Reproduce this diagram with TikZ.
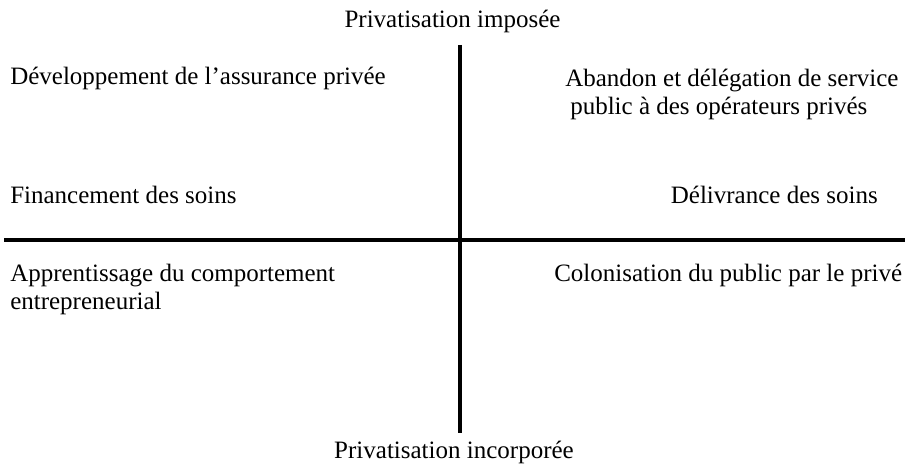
\documentclass[tikz,border=0pt]{standalone}
\usepackage{fontspec}
\setmainfont{Liberation Serif}
\usetikzlibrary{positioning}

\begin{document}
\begin{tikzpicture}[x=1pt,y=-1pt,line width=4.5pt,font=\fontsize{25}{28}\selectfont]
   \tikzstyle{every node}=[inner sep=0pt]
   \tikzstyle{pole}=[anchor=base]
   \tikzstyle{quadrant}=[anchor=base west]
   \useasboundingbox (0,0) rectangle (905,468);

   \coordinate (top)    at (460,45);
   \coordinate (bottom) at (460,433);
   \coordinate (left)   at (4,240);
   \coordinate (right)  at (905,240);

   \node[pole]     (imposee)    at (452.5,28) {Privatisation imposée};
   \node[pole]     (incorporee) at (454,458)  {Privatisation incorporée};

   \node[quadrant] (assurance)  at (8,85)    {Développement de l’assurance privée};
   \node[quadrant] (abandon)    at (563,87)  {Abandon et délégation de service};
   \node[quadrant] (abandon2)   at (568,115) {public à des opérateurs privés};
   \node[quadrant] (financement) at (8,203)  {Financement des soins};
   \node[anchor=base east] (delivrance) at (880,203) {Délivrance des soins};
   \node[quadrant] (apprentissage)  at (8,281)  {Apprentissage du comportement};
   \node[quadrant] (apprentissage2) at (8,309)  {entrepreneurial};
   \node[quadrant] (colonisation)   at (552,281) {Colonisation du public par le privé};

   \draw (top) -- (bottom);
   \draw (left) -- (right);
\end{tikzpicture}
\end{document}
